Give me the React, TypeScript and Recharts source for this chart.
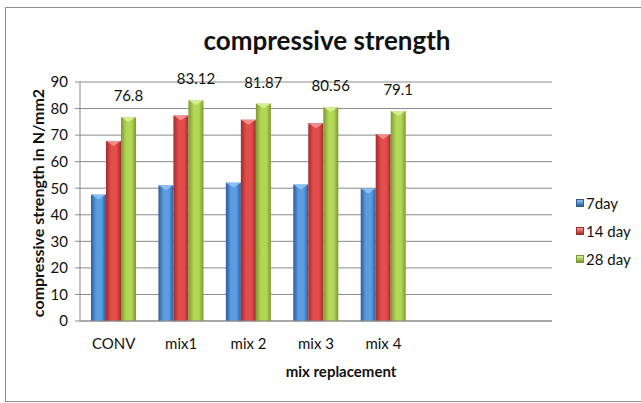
import React from 'react';
import {
  BarChart,
  Bar,
  XAxis,
  YAxis,
  CartesianGrid,
  LabelList,
} from 'recharts';

// mix designs; the last two slots are left empty so the bars sit on the left
const categories = ['CONV', 'mix1', 'mix 2', 'mix 3', 'mix 4', '', ' '];
const day7 = [47.6, 51.1, 52.1, 51.4, 49.9];
const day14 = [67.8, 77.4, 75.8, 74.5, 70.4];
const day28 = [76.8, 83.12, 81.87, 80.56, 79.1];
const yTicks = [0, 10, 20, 30, 40, 50, 60, 70, 80, 90];

const seriesNames = ['7day', '14 day', '28 day'];

const data = categories.map((name, i) => ({
  name,
  d7: day7[i],
  d14: day14[i],
  d28: day28[i],
}));

const FONT = 'Lato, "Liberation Sans", sans-serif';
const GRID = '#8a8a8a';

const palette = {
  blue: { dark: '#2c5c9c', light: '#5c9de2', cap: '#8fc4f6' },
  red: { dark: '#a32b2a', light: '#e24e4c', cap: '#f39a98' },
  green: { dark: '#7b9a2e', light: '#b2d656', cap: '#dcf29a' },
};
const paletteKeys = ['blue', 'red', 'green'] as const;

// bevelled 3D-style column: shaded body plus a light wedge on top
const makeShape = (key: keyof typeof palette) => (props: any) => {
  const { x, y, width, height } = props;
  if (!height || height <= 0) return null;
  const cap = Math.min(5, height);
  return (
    <g>
      <rect x={x} y={y} width={width} height={height} fill={`url(#grad-${key})`} />
      <polygon
        points={`${x},${y} ${x + width},${y} ${x + width / 2},${y + cap}`}
        fill={palette[key].cap}
        opacity={0.85}
      />
    </g>
  );
};

const LegendBox = () => (
  <div
    style={{
      position: 'absolute',
      left: 576,
      top: 189,
      fontFamily: FONT,
      fontSize: 15,
      color: '#111',
    }}
  >
    {seriesNames.map((n, i) => {
      const key = paletteKeys[i];
      return (
        <div key={n} style={{ display: 'flex', alignItems: 'center', height: 28 }}>
          <span
            style={{
              width: 6,
              height: 6,
              marginRight: 2,
              background: `linear-gradient(${palette[key].cap}, ${palette[key].dark})`,
              border: `1px solid ${palette[key].dark}`,
            }}
          />
          {n}
        </div>
      );
    })}
  </div>
);

export default function App() {
  return (
    <div style={{ position: 'absolute', left: 0, top: 0, width: 641, height: 403, background: '#fff', overflow: 'hidden' }}>
      <div
        style={{
          position: 'absolute',
          left: 5,
          top: 7,
          width: 660,
          height: 393,
          border: '1.5px solid #8c8c8c',
        }}
      />
      <div
        style={{
          position: 'absolute',
          left: 0,
          width: 654,
          top: 24,
          textAlign: 'center',
          fontFamily: FONT,
          fontWeight: 'bold',
          fontSize: 26,
          color: '#111',
        }}
      >
        compressive strength
      </div>
      <div
        style={{
          position: 'absolute',
          left: 37,
          top: 203,
          transform: 'translate(-50%, -50%) rotate(-90deg)',
          whiteSpace: 'nowrap',
          fontFamily: FONT,
          fontWeight: 'bold',
          fontSize: 16,
          color: '#111',
        }}
      >
        compressive strength in N/mm2
      </div>
      <div
        style={{
          position: 'absolute',
          left: 241,
          width: 200,
          top: 362,
          textAlign: 'center',
          fontFamily: FONT,
          fontWeight: 'bold',
          fontSize: 15,
          color: '#111',
        }}
      >
        mix replacement
      </div>
      <LegendBox />
      <BarChart
        width={641}
        height={403}
        data={data}
        margin={{ top: 82, right: 89, bottom: 52, left: 0 }}
        barGap={0}
        barSize={15}
        style={{ position: 'absolute', left: 0, top: 0 }}
      >
        <defs>
          {paletteKeys.map((k) => (
            <linearGradient key={k} id={`grad-${k}`} x1="0" y1="0" x2="1" y2="0">
              <stop offset="0%" stopColor={palette[k].dark} />
              <stop offset="35%" stopColor={palette[k].light} />
              <stop offset="70%" stopColor={palette[k].light} />
              <stop offset="100%" stopColor={palette[k].dark} />
            </linearGradient>
          ))}
        </defs>
        <CartesianGrid vertical={false} stroke={GRID} strokeWidth={1} />
        <XAxis
          dataKey="name"
          axisLine={{ stroke: GRID }}
          tickLine={false}
          tickSize={0}
          tickMargin={17}
          height={30}
          interval={0}
          tick={{ fontFamily: FONT, fontSize: 15, fill: '#111' }}
        />
        <YAxis
          width={80}
          domain={[0, 90]}
          ticks={yTicks}
          interval={0}
          axisLine={{ stroke: GRID }}
          tickLine={{ stroke: GRID }}
          tickSize={5}
          tickMargin={7}
          tick={{ fontFamily: FONT, fontSize: 15, fill: '#111' }}
        />
        <Bar dataKey="d7" name={seriesNames[0]} shape={makeShape('blue')} isAnimationActive={false} />
        <Bar dataKey="d14" name={seriesNames[1]} shape={makeShape('red')} isAnimationActive={false} />
        <Bar dataKey="d28" name={seriesNames[2]} shape={makeShape('green')} isAnimationActive={false}>
          <LabelList
            dataKey="d28"
            position="top"
            offset={16}
            style={{ fontFamily: FONT, fontSize: 15, fill: '#111' }}
          />
        </Bar>
      </BarChart>
    </div>
  );
}
